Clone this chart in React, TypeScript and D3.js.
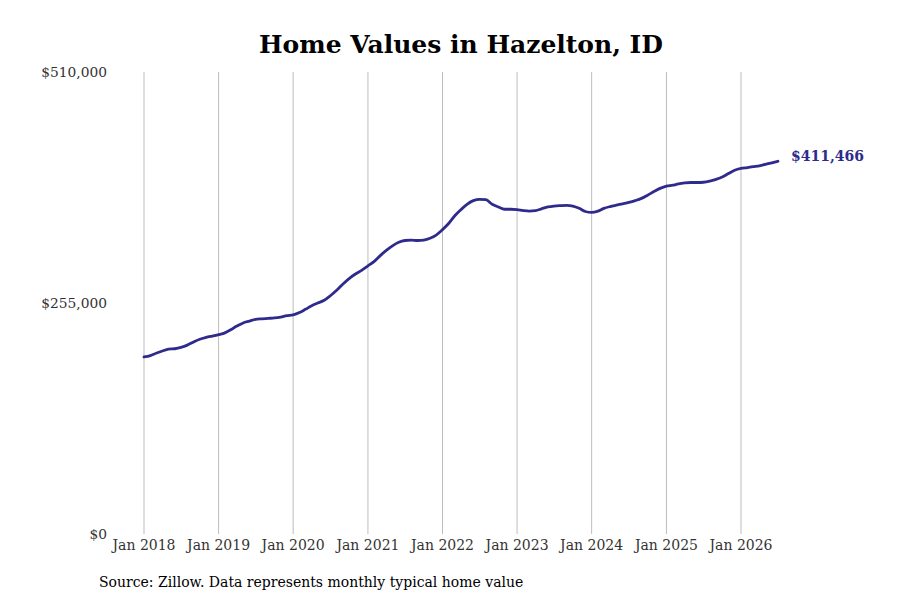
import React, { useEffect } from 'react';
import * as d3 from 'd3';

// monthly typical home value, Jan 2018 .. Jul 2026 (thousands of $)
const values2018 = [195.5, 197, 199.5, 202, 204, 204.5, 206, 208.5, 212, 215, 217, 218.5];
const values2019 = [220, 222, 225.5, 229.5, 233, 235, 237, 237.5, 238, 238.5, 239.5, 241];
const values2020 = [242, 244.5, 248, 252, 255, 258, 263, 269, 276, 282, 287, 291];
const values2021 = [296, 301, 307, 313, 318, 322, 324, 324.5, 324, 324.5, 326.5, 330];
const values2022 = [336, 343, 351, 358, 364, 368, 369.5, 369, 364, 361, 358.5, 358.5];
const values2023 = [358, 357, 356.5, 357, 359, 361, 362, 362.5, 362.8, 362, 359.5, 356];
const values2024 = [355, 356.5, 359.5, 361.5, 363, 364.5, 366, 368, 370.5, 374, 378, 381.5];
const values2025 = [384, 385, 386.5, 387.5, 388, 388, 388.3, 389.5, 391.5, 394, 398, 401.5];
const values2026 = [403.5, 404.5, 405.5, 406.5, 408, 409.8, 411.466];

const allValues = [
  ...values2018, ...values2019, ...values2020, ...values2021, ...values2022,
  ...values2023, ...values2024, ...values2025, ...values2026,
];

const yTicks = [0, 255000, 510000];
const xTickYears = [2018, 2019, 2020, 2021, 2022, 2023, 2024, 2025, 2026];
const lastLabel = '$411,466';

const series = allValues.map((v, i) => ({
  date: new Date(2018, i, 1),
  value: v * 1000,
}));

const LINE_COLOR = '#2e2b8c';
const FONT = '"DejaVu Serif", serif';

export default function App() {
  useEffect(() => {
    document.body.style.margin = '0';
  }, []);

  const x = d3.scaleTime()
    .domain([new Date(2018, 0, 1), new Date(2026, 0, 1)])
    .range([144, 741]);
  const y = d3.scaleLinear().domain([0, 510000]).range([534, 72]);

  const line = d3.line<{ date: Date; value: number }>()
    .x(d => x(d.date))
    .y(d => y(d.value))
    .curve(d3.curveMonotoneX);

  const fmt = d3.format('$,');
  const last = series[series.length - 1];

  return (
    <svg width={900} height={600} style={{ display: 'block', background: '#fff' }}>
      <text x={461} y={53} textAnchor="middle" fontFamily={FONT} fontWeight="bold" fontSize={25} fill="#000">
        Home Values in Hazelton, ID
      </text>

      {xTickYears.map(yr => {
        const xx = x(new Date(yr, 0, 1));
        return (
          <g key={yr}>
            <line x1={xx} x2={xx} y1={72} y2={534} stroke="#bdbdbd" strokeWidth={1} />
            <text x={xx} y={550} textAnchor="middle" fontFamily={FONT} fontSize={14} fill="#333">
              {`Jan ${yr}`}
            </text>
          </g>
        );
      })}

      {yTicks.map(t => (
        <text key={t} x={107} y={y(t) + 5} textAnchor="end" fontFamily={FONT} fontSize={13.8} fill="#333">
          {fmt(t)}
        </text>
      ))}

      <path d={line(series) || ''} fill="none" stroke={LINE_COLOR} strokeWidth={2.8} strokeLinejoin="round" strokeLinecap="round" />

      <text x={x(last.date) + 13} y={y(last.value) + 0} fontFamily={FONT} fontWeight="bold" fontSize={14} fill={LINE_COLOR}>
        {lastLabel}
      </text>

      <text x={99} y={587} fontFamily={FONT} fontSize={14} fill="#000">
        Source: Zillow. Data represents monthly typical home value
      </text>
    </svg>
  );
}
